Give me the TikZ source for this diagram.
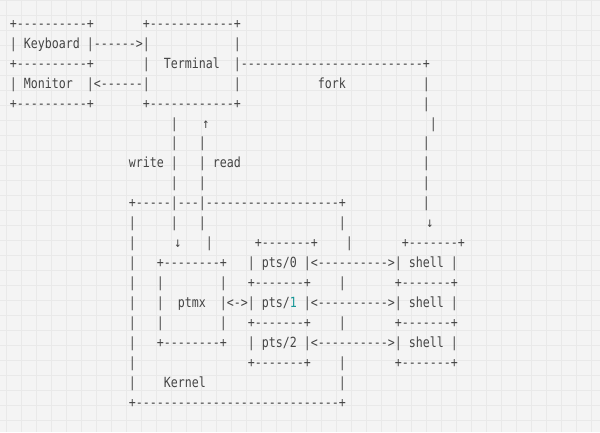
\documentclass[tikz,border=0pt]{standalone}
\usepackage{fontspec}
\setmonofont{DejaVu Sans Mono}[FakeStretch=0.8305]
\usepackage{xcolor}
\usepackage{tikz}
\usetikzlibrary{positioning}
\definecolor{paper}{RGB}{244,244,244}
\definecolor{gridgray}{RGB}{233,233,233}
\definecolor{asciigray}{RGB}{68,68,68}
\definecolor{numteal}{RGB}{22,150,150}
\newlength\colw
\setlength\colw{7pt}
\newcommand\skipcols[1]{\hspace*{#1\colw}}
\newcommand\wide[1]{\makebox[2\colw][c]{#1}}

\begin{document}
\begin{tikzpicture}[x=1pt, y=1pt,
    row/.style={inner sep=0pt, outer sep=0pt, text=asciigray, font=\ttfamily\fontsize{14pt}{17pt}\selectfont},
    nextrow/.style={below=19.93pt of #1.base west, anchor=base west},
    gridline/.style={draw=gridgray, line width=0.6pt}
]

% paper and grid
\useasboundingbox (0,0) rectangle (600,-432);
\fill[paper] (0,0) rectangle (600,-432);
\foreach \x in {6.7,21.7,...,600} \draw[gridline] (\x,0) -- (\x,-432);
\foreach \y in {0,15,...,432} \draw[gridline] (0,-\y) -- (600,-\y);

% terminal side
\node[row, anchor=base west] (r1) at (9.8,-28.4) {+----------+\skipcols{7}+------------+};
\node[row, nextrow=r1] (r2) {| Keyboard |------>|\skipcols{12}|};
\node[row, nextrow=r2] (r3) {+----------+\skipcols{7}|\skipcols{2}Terminal\skipcols{2}|--------------------------+};
\node[row, nextrow=r3] (r4) {| Monitor\skipcols{2}|<------|\skipcols{12}|\skipcols{11}fork\skipcols{11}|};
\node[row, nextrow=r4] (r5) {+----------+\skipcols{7}+------------+\skipcols{26}|};
\node[row, nextrow=r5] (r6) {\skipcols{23}|\skipcols{3}\wide{↑}\skipcols{31}|};
\node[row, nextrow=r6] (r7) {\skipcols{23}|\skipcols{3}|\skipcols{31}|};
\node[row, nextrow=r7] (r8) {\skipcols{17}write |\skipcols{3}| read\skipcols{26}|};
\node[row, nextrow=r8] (r9) {\skipcols{23}|\skipcols{3}|\skipcols{31}|};

% kernel side
\node[row, nextrow=r9] (r10) {\skipcols{17}+-----|---|-------------------+\skipcols{11}|};
\node[row, nextrow=r10] (r11) {\skipcols{17}|\skipcols{5}|\skipcols{3}|\skipcols{19}|\skipcols{11}\wide{↓}};
\node[row, nextrow=r11] (r12) {\skipcols{17}|\skipcols{5}\wide{↓}\skipcols{3}|\skipcols{6}+-------+\skipcols{4}|\skipcols{7}+-------+};
\node[row, nextrow=r12] (r13) {\skipcols{17}|\skipcols{3}+--------+\skipcols{3}| pts/0 |<---------->| shell |};
\node[row, nextrow=r13] (r14) {\skipcols{17}|\skipcols{3}|\skipcols{8}|\skipcols{3}+-------+\skipcols{4}|\skipcols{7}+-------+};
\node[row, nextrow=r14] (r15) {\skipcols{17}|\skipcols{3}|\skipcols{2}ptmx\skipcols{2}|<->| pts/\textcolor{numteal}{1} |<---------->| shell |};
\node[row, nextrow=r15] (r16) {\skipcols{17}|\skipcols{3}|\skipcols{8}|\skipcols{3}+-------+\skipcols{4}|\skipcols{7}+-------+};
\node[row, nextrow=r16] (r17) {\skipcols{17}|\skipcols{3}+--------+\skipcols{3}| pts/2 |<---------->| shell |};
\node[row, nextrow=r17] (r18) {\skipcols{17}|\skipcols{16}+-------+\skipcols{4}|\skipcols{7}+-------+};
\node[row, nextrow=r18] (r19) {\skipcols{17}|\skipcols{4}Kernel\skipcols{19}|};
\node[row, nextrow=r19] (r20) {\skipcols{17}+-----------------------------+};

\end{tikzpicture}
\end{document}
